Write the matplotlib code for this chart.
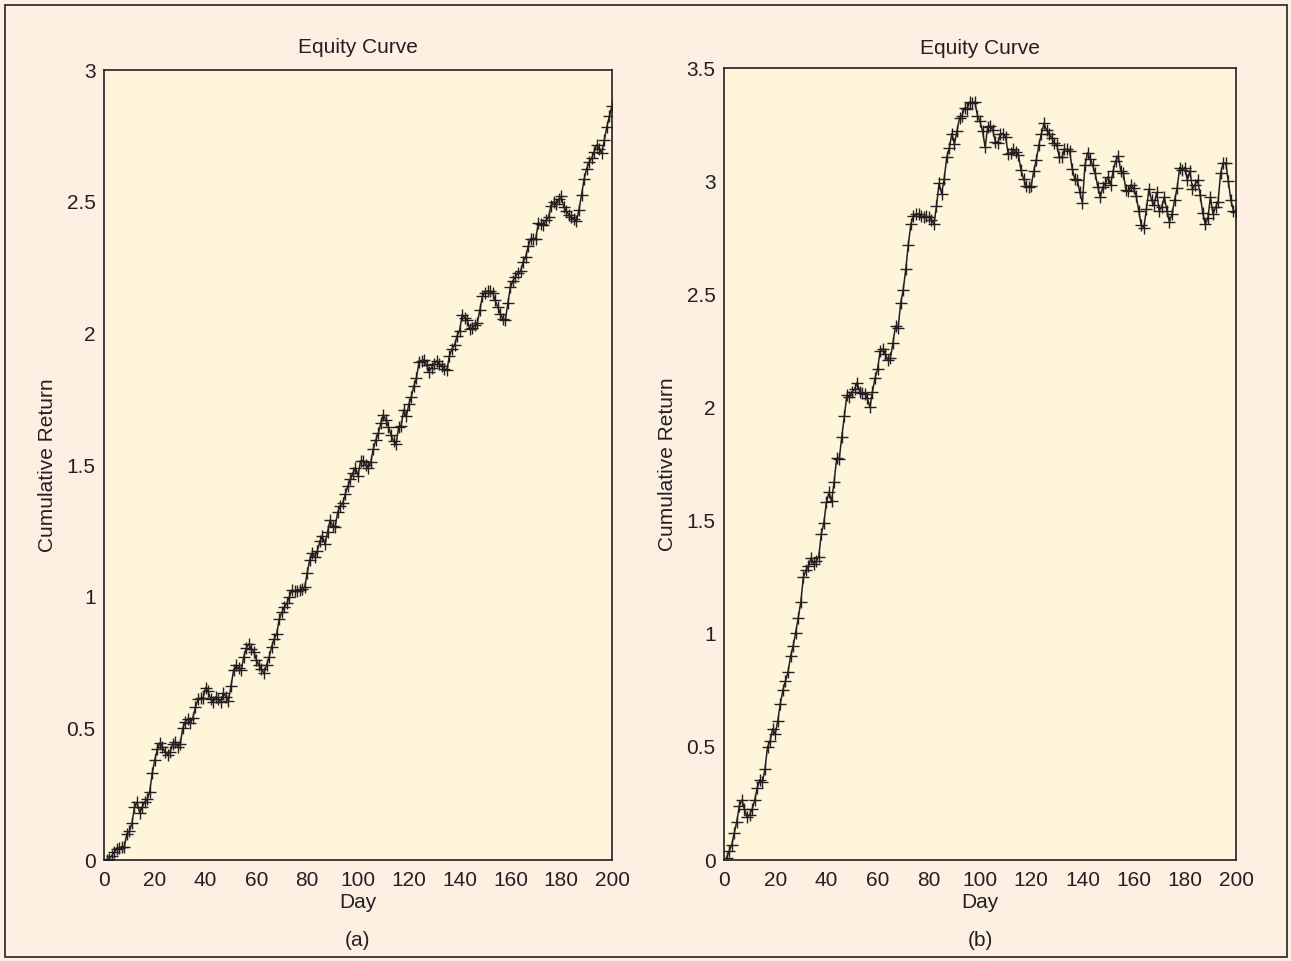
import numpy as np
import matplotlib
matplotlib.use("Agg")
import matplotlib.pyplot as plt
from matplotlib.patches import Rectangle
from matplotlib.ticker import FormatStrFormatter

# Days shared by both panels
days = np.arange(1, 201)

# Panel (a): cumulative return, day 1..200
ret_a = [
    0.00, 0.005, 0.015, 0.03, 0.04, 0.045, 0.05, 0.05, 0.10, 0.11,
    0.14, 0.20, 0.22, 0.18, 0.20, 0.22, 0.23, 0.26, 0.33, 0.38,
    0.42, 0.445, 0.43, 0.41, 0.40, 0.41, 0.44, 0.45, 0.43, 0.44,
    0.50, 0.525, 0.535, 0.52, 0.54, 0.58, 0.61, 0.615, 0.615, 0.655,
    0.64, 0.61, 0.60, 0.62, 0.61, 0.60, 0.635, 0.62, 0.605, 0.66,
    0.72, 0.74, 0.73, 0.72, 0.77, 0.805, 0.82, 0.80, 0.79, 0.76,
    0.74, 0.725, 0.71, 0.74, 0.77, 0.81, 0.84, 0.86, 0.915, 0.94,
    0.96, 0.975, 1.00, 1.025, 1.02, 1.02, 1.025, 1.03, 1.035, 1.09,
    1.14, 1.165, 1.15, 1.175, 1.21, 1.23, 1.20, 1.245, 1.29, 1.27,
    1.265, 1.32, 1.345, 1.355, 1.39, 1.42, 1.445, 1.47, 1.49, 1.46,
    1.515, 1.517, 1.50, 1.49, 1.51, 1.56, 1.595, 1.62, 1.66, 1.69,
    1.67, 1.645, 1.615, 1.59, 1.58, 1.645, 1.65, 1.71, 1.685, 1.73,
    1.76, 1.80, 1.83, 1.89, 1.895, 1.90, 1.88, 1.855, 1.87, 1.885,
    1.895, 1.885, 1.875, 1.865, 1.86, 1.915, 1.94, 1.955, 1.99, 2.01,
    2.07, 2.06, 2.05, 2.015, 2.02, 2.03, 2.04, 2.09, 2.14, 2.155,
    2.16, 2.16, 2.155, 2.125, 2.10, 2.075, 2.055, 2.05, 2.115, 2.175,
    2.20, 2.215, 2.23, 2.235, 2.27, 2.29, 2.33, 2.36, 2.36, 2.36,
    2.42, 2.415, 2.41, 2.43, 2.44, 2.485, 2.50, 2.49, 2.51, 2.52,
    2.48, 2.465, 2.45, 2.44, 2.435, 2.425, 2.47, 2.525, 2.585, 2.625,
    2.65, 2.665, 2.69, 2.715, 2.70, 2.685, 2.735, 2.785, 2.825, 2.865,
]

# Panel (b): cumulative return, day 1..200
ret_b = [
    0.01, 0.04, 0.065, 0.12, 0.17, 0.24, 0.265, 0.225, 0.19, 0.20,
    0.225, 0.265, 0.32, 0.355, 0.345, 0.40, 0.50, 0.525, 0.58, 0.555,
    0.615, 0.69, 0.75, 0.79, 0.83, 0.90, 0.945, 1.005, 1.07, 1.14,
    1.25, 1.28, 1.30, 1.335, 1.31, 1.32, 1.34, 1.44, 1.49, 1.58,
    1.625, 1.585, 1.67, 1.775, 1.77, 1.87, 1.96, 2.055, 2.045, 2.07,
    2.08, 2.11, 2.07, 2.065, 2.06, 2.04, 2.00, 2.07, 2.13, 2.17,
    2.25, 2.26, 2.235, 2.21, 2.22, 2.285, 2.36, 2.35, 2.46, 2.52,
    2.61, 2.72, 2.81, 2.845, 2.855, 2.855, 2.845, 2.84, 2.845, 2.84,
    2.83, 2.81, 2.89, 2.99, 2.945, 3.01, 3.105, 3.145, 3.21, 3.165,
    3.22, 3.28, 3.29, 3.325, 3.32, 3.35, 3.345, 3.35, 3.29, 3.265,
    3.22, 3.15, 3.24, 3.245, 3.225, 3.175, 3.17, 3.21, 3.21, 3.195,
    3.12, 3.125, 3.14, 3.13, 3.115, 3.05, 3.01, 2.98, 2.975, 2.98,
    3.045, 3.095, 3.16, 3.21, 3.255, 3.225, 3.21, 3.19, 3.17, 3.16,
    3.105, 3.105, 3.14, 3.14, 3.135, 3.055, 3.01, 3.005, 2.95, 2.905,
    3.07, 3.125, 3.10, 3.07, 3.035, 2.975, 2.93, 2.975, 2.99, 3.02,
    2.985, 3.045, 3.09, 3.11, 3.045, 3.035, 2.96, 2.955, 2.985, 2.97,
    2.935, 2.87, 2.805, 2.795, 2.875, 2.965, 2.915, 2.895, 2.95, 2.87,
    2.885, 2.93, 2.87, 2.82, 2.855, 2.915, 2.97, 3.06, 3.05, 3.06,
    3.005, 3.045, 2.965, 2.985, 3.005, 2.94, 2.86, 2.81, 2.835, 2.93,
    2.855, 2.885, 2.91, 3.035, 3.08, 3.08, 3.00, 2.915, 2.87, 2.865,
]

x_ticks = [0, 20, 40, 60, 80, 100, 120, 140, 160, 180, 200]
y_ticks_a = [0, 0.5, 1, 1.5, 2, 2.5, 3]
y_ticks_b = [0, 0.5, 1, 1.5, 2, 2.5, 3, 3.5]
panel_labels = ["(a)", "(b)"]

plt.rcParams["font.family"] = ["Liberation Sans", "DejaVu Sans"]

FIG_BG = "#fdefe2"
AX_BG = "#fef5da"
INK = "#231f20"

fig = plt.figure(figsize=(12.91, 9.61), dpi=100, facecolor=FIG_BG)

# thin frame round the whole figure
fig.patches.append(Rectangle((5 / 1291, 4 / 961), 1282 / 1291, 952 / 961,
                             transform=fig.transFigure, fill=False,
                             edgecolor=INK, linewidth=1.2))

ax_a = fig.add_axes([104 / 1291, 101 / 961, 508 / 1291, 790 / 961])
ax_b = fig.add_axes([724 / 1291, 101 / 961, 512 / 1291, 792 / 961])

for ax, vals, yt, lab, tpad in [(ax_a, ret_a, y_ticks_a, panel_labels[0], 12),
                                (ax_b, ret_b, y_ticks_b, panel_labels[1], 10)]:
    ax.set_facecolor(AX_BG)
    ax.plot(days, vals, color=INK, linewidth=1.1, marker="+",
            markersize=8, markeredgewidth=1.0)
    ax.set_xlim(0, 200)
    ax.set_ylim(yt[0], yt[-1])
    ax.set_xticks(x_ticks)
    ax.set_yticks(yt)
    ax.yaxis.set_major_formatter(FormatStrFormatter("%g"))
    ax.tick_params(length=0, labelsize=15, colors=INK)
    ax.tick_params(axis="y", pad=6)
    ax.tick_params(axis="x", pad=8)
    for s in ax.spines.values():
        s.set_color(INK)
        s.set_linewidth(1.2)
    ax.set_title("Equity Curve", fontsize=15, color=INK, pad=tpad)
    ax.set_xlabel("Day", fontsize=15, color=INK, labelpad=2)
    ax.set_ylabel("Cumulative Return", fontsize=15, color=INK, labelpad=7)
    ax.text(0.5, -0.102, lab, transform=ax.transAxes, ha="center",
            va="center", fontsize=15, color=INK)

fig.savefig("out.png", dpi=100, facecolor=FIG_BG)
